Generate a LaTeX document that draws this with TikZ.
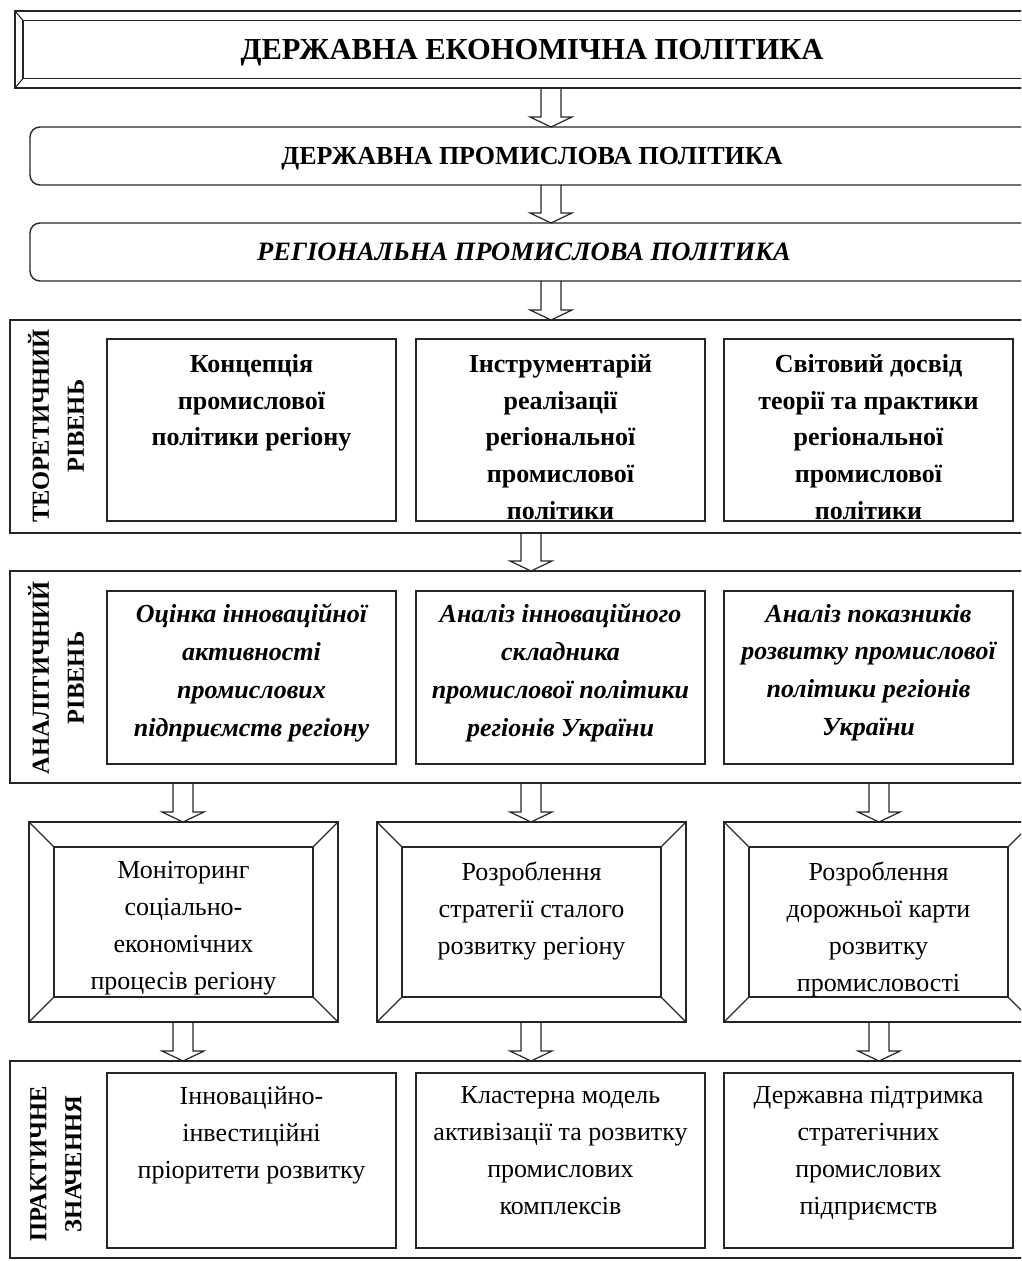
\documentclass[tikz,border=0pt]{standalone}
\usepackage{fontspec}
\setmainfont{Liberation Serif}
\usetikzlibrary{calc}
\newcommand{\hollowarrow}[2]{%
  \draw[arrowline] ($(#1)+(-10,0)$) -- ($(#2)+(-10,-10)$) -- ($(#2)+(-21,-10)$) -- (#2) -- ($(#2)+(21,-10)$) -- ($(#2)+(10,-10)$) -- ($(#1)+(10,0)$);}
\newcommand{\bevellines}[2]{%
  \draw[bevelline] (#1.north west) -- (#2.north west)
    (#1.north east) -- (#2.north east)
    (#1.south west) -- (#2.south west)
    (#1.south east) -- (#2.south east);}
\tikzset{
  ln/.style={draw=black!85, line width=1.4pt},
  boxshape/.style={ln, rectangle, inner sep=0pt, outer sep=0pt},
  thinbox/.style={boxshape, line width=1.2pt},
  rbox/.style={boxshape, rounded corners=10pt},
  arrowline/.style={draw=black!85, line width=1.2pt, line join=miter},
  bevelline/.style={draw=black!85, line width=1.1pt},
  titletext/.style={inner sep=0pt, anchor=base},
  bodytext/.style={align=center, inner sep=0pt, anchor=north, execute at begin node={\rule{0pt}{20pt}}},
  bodybold/.style={bodytext, font=\fontsize{26}{36.8}\selectfont\bfseries},
  bodyit/.style={bodytext, font=\fontsize{26}{37.7}\selectfont\bfseries\itshape},
  bodyrm/.style={bodytext, font=\fontsize{26}{37}\selectfont},
  sidelabel/.style={rotate=90, align=center, inner sep=0pt, font=\fontsize{24.5}{35}\selectfont\bfseries},
}
\begin{document}
\begin{tikzpicture}[x=1pt,y=-1pt]
\useasboundingbox (0,0) rectangle (1021,1261);
\clip (0,0) rectangle (1021,1261);
% top beveled box
\node[boxshape, minimum width=1025pt, minimum height=77pt] (top) at (527.5,49.5) {};
\node[boxshape, minimum width=1009pt, minimum height=58pt] (topin) at (527.5,49.5) {};
\bevellines{top}{topin}
\node[titletext, font=\fontsize{30.5}{32}\selectfont\bfseries] (toptxt) at (532,59) {ДЕРЖАВНА ЕКОНОМІЧНА ПОЛІТИКА};
% rounded boxes
\node[rbox, minimum width=1010pt, minimum height=58pt] (b2) at (535,156) {};
\node[titletext, font=\fontsize{26}{28}\selectfont\bfseries] (b2txt) at (532,164.5) {ДЕРЖАВНА ПРОМИСЛОВА ПОЛІТИКА};
\node[rbox, minimum width=1010pt, minimum height=58pt] (b3) at (535,252) {};
\node[titletext, font=\fontsize{26.5}{28}\selectfont\bfseries\itshape] (b3txt) at (524,260.5) {РЕГІОНАЛЬНА ПРОМИСЛОВА ПОЛІТИКА};
% level frames
\node[boxshape, minimum width=1030pt, minimum height=213pt] (theo) at (525,426.5) {};
\node[boxshape, minimum width=1030pt, minimum height=212pt] (anal) at (525,677) {};
\node[boxshape, minimum width=1030pt, minimum height=197pt] (prac) at (525,1159.5) {};
\node[sidelabel] (theolbl) at (56,426) {ТЕОРЕТИЧНИЙ\\РІВЕНЬ};
\node[sidelabel] (anallbl) at (56,678) {АНАЛІТИЧНИЙ\\РІВЕНЬ};
\node[sidelabel] (praclbl) at (56,1164) {ПРАКТИЧНЕ\\ЗНАЧЕННЯ};
% theoretical boxes
\foreach \n/\cx in {t1/251.5, t2/560.5, t3/868.5}
  \node[boxshape, minimum width=289pt, minimum height=182pt] (\n) at (\cx,430) {};
\node[bodybold] (t1txt) at ($(t1.north)+(0,15)$) {Концепція\\промислової\\політики регіону};
\node[bodybold] (t2txt) at ($(t2.north)+(0,15)$) {Інструментарій\\реалізації\\регіональної\\промислової\\політики};
\node[bodybold] (t3txt) at ($(t3.north)+(0,15)$) {Світовий досвід\\теорії та практики\\регіональної\\промислової\\політики};
% analytical boxes
\foreach \n/\cx in {n1/251.5, n2/560.5, n3/868.5}
  \node[boxshape, minimum width=289pt, minimum height=173pt] (\n) at (\cx,677.5) {};
\node[bodyit] (n1txt) at ($(n1.north)+(0,13)$) {Оцінка інноваційної\\активності\\промислових\\підприємств регіону};
\node[bodyit] (n2txt) at ($(n2.north)+(0,13)$) {Аналіз інноваційного\\складника\\промислової політики\\регіонів України};
\node[bodyit] (n3txt) at ($(n3.north)+(0,13)$) {Аналіз показників\\розвитку промислової\\політики регіонів\\України};
% beveled middle frames
\foreach \n/\cx in {m1/183.5, m2/531.5, m3/878.5}
  \node[thinbox, minimum width=309pt, minimum height=200pt] (\n) at (\cx,922) {};
\foreach \n/\cx in {m1i/183.5, m2i/531.5, m3i/878.5}
  \node[thinbox, minimum width=259pt, minimum height=150pt] (\n) at (\cx,922) {};
\bevellines{m1}{m1i}
\bevellines{m2}{m2i}
\bevellines{m3}{m3i}
\node[bodyrm] (m1txt) at ($(m1i.north)+(0,14.5)$) {Моніторинг\\соціально-\\економічних\\процесів регіону};
\node[bodyrm] (m2txt) at ($(m2i.north)+(0,14.5)$) {Розроблення\\стратегії сталого\\розвитку регіону};
\node[bodyrm] (m3txt) at ($(m3i.north)+(0,14.5)$) {Розроблення\\дорожньої карти\\розвитку\\промисловості};
% practical boxes
\foreach \n/\cx in {p1/251.5, p2/560.5, p3/868.5}
  \node[boxshape, minimum width=289pt, minimum height=175pt] (\n) at (\cx,1160.5) {};
\node[bodyrm] (p1txt) at ($(p1.north)+(0,13)$) {Інноваційно-\\інвестиційні\\пріоритети розвитку};
\node[bodyrm] (p2txt) at ($(p2.north)+(0,13)$) {Кластерна модель\\активізації та розвитку\\промислових\\комплексів};
\node[bodyrm] (p3txt) at ($(p3.north)+(0,13)$) {Державна підтримка\\стратегічних\\промислових\\підприємств};
% arrow anchor coordinates
\coordinate (xa) at (551,0);
\coordinate (xb) at (531,0);
\coordinate (xm1) at (183,0);
\coordinate (xm2) at (531,0);
\coordinate (xm3) at (879,0);
\coordinate (a1s) at (top.south -| xa);  \coordinate (a1e) at (b2.north -| xa);
\coordinate (a2s) at (b2.south -| xa);   \coordinate (a2e) at (b3.north -| xa);
\coordinate (a3s) at (b3.south -| xa);   \coordinate (a3e) at (theo.north -| xa);
\coordinate (a4s) at (theo.south -| xb); \coordinate (a4e) at (anal.north -| xb);
\hollowarrow{a1s}{a1e}
\hollowarrow{a2s}{a2e}
\hollowarrow{a3s}{a3e}
\hollowarrow{a4s}{a4e}
\coordinate (u1s) at (anal.south -| xm1); \coordinate (u1e) at (m1.north -| xm1);
\coordinate (u2s) at (anal.south -| xm2); \coordinate (u2e) at (m2.north -| xm2);
\coordinate (u3s) at (anal.south -| xm3); \coordinate (u3e) at (m3.north -| xm3);
\coordinate (d1s) at (m1.south -| xm1); \coordinate (d1e) at (prac.north -| xm1);
\coordinate (d2s) at (m2.south -| xm2); \coordinate (d2e) at (prac.north -| xm2);
\coordinate (d3s) at (m3.south -| xm3); \coordinate (d3e) at (prac.north -| xm3);
\hollowarrow{u1s}{u1e}
\hollowarrow{u2s}{u2e}
\hollowarrow{u3s}{u3e}
\hollowarrow{d1s}{d1e}
\hollowarrow{d2s}{d2e}
\hollowarrow{d3s}{d3e}
\end{tikzpicture}
\end{document}
